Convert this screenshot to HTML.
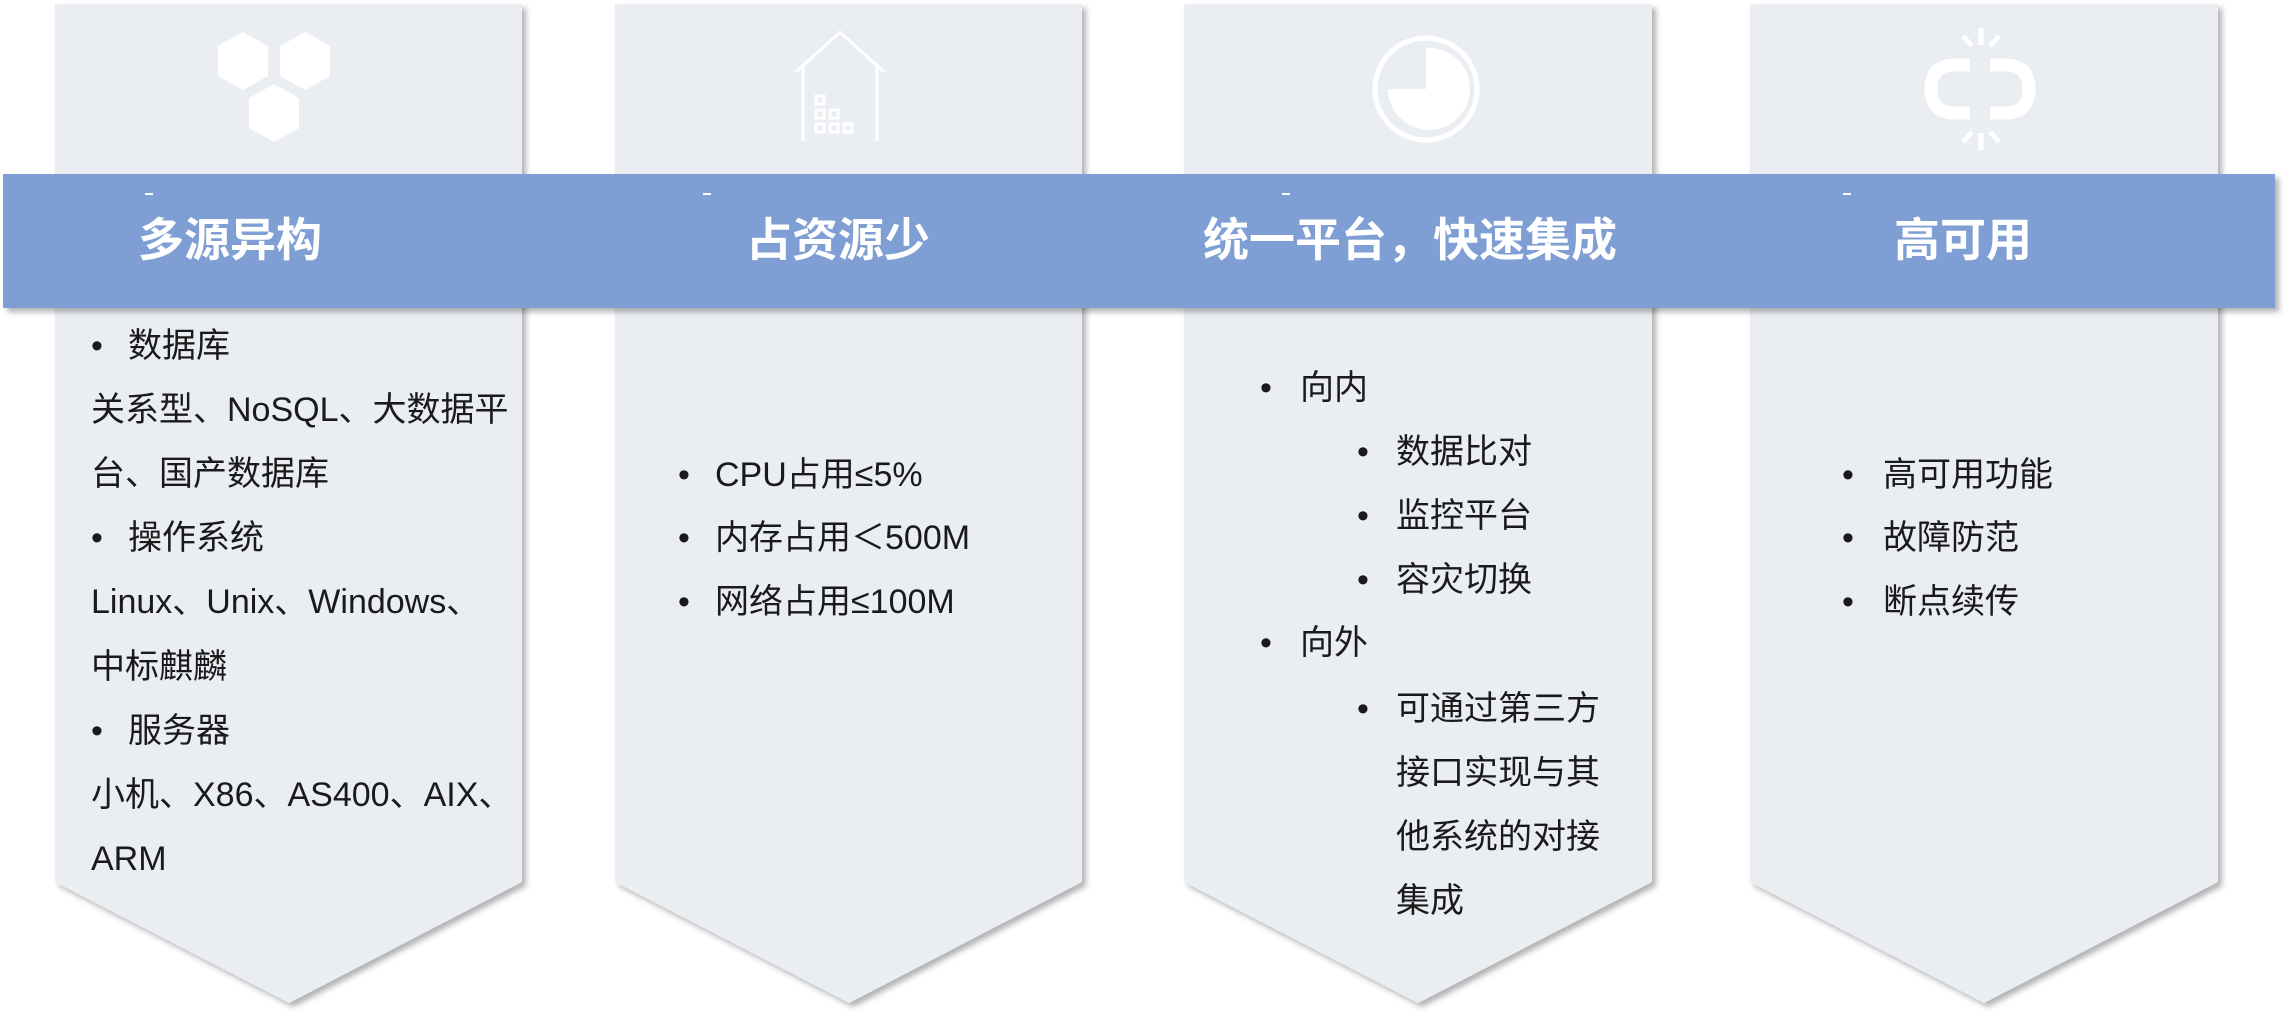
<!DOCTYPE html>
<html><head><meta charset="utf-8"><style>
html,body{margin:0;padding:0;background:#fff;}
body{width:2287px;height:1034px;position:relative;overflow:hidden;font-family:"Liberation Sans","Noto Sans CJK SC",sans-serif;}
.t{position:absolute;font-size:34px;color:#1a1a1a;white-space:nowrap;line-height:40px;}
.b{position:absolute;font-size:34px;color:#1a1a1a;line-height:40px;}
.h{position:absolute;font-size:46px;font-weight:bold;color:#fff;white-space:nowrap;line-height:50px;}
</style></head><body>
<svg width="2287" height="1034" style="position:absolute;left:0;top:0">
<defs><filter id="s" x="-5%" y="-5%" width="115%" height="115%"><feDropShadow dx="4" dy="4" stdDeviation="3" flood-color="#000" flood-opacity="0.3"/></filter></defs>
<g fill="#eaedf2" filter="url(#s)">
<polygon points="55,4 522,4 522,882 289,1003 55,882"/>
<polygon points="615,4 1082,4 1082,882 849,1003 615,882"/>
<polygon points="1184,4 1652,4 1652,882 1418,1003 1184,882"/>
<polygon points="1750,4 2218,4 2218,882 1984,1003 1750,882"/>
</g>
<rect x="3" y="174" width="2272" height="134" fill="#7f9fd4" filter="url(#s)"/>
<g fill="#fff">
<polygon points="243,32 268,46 268,76 243,90 218,76 218,46"/>
<polygon points="305,32 330,46 330,76 305,90 280,76 280,46"/>
<polygon points="274,84 299,98 299,128 274,142 249,128 249,98"/>
</g>
<g fill="none" stroke="#fff" stroke-width="3">
<polyline points="796,72 840,32 884,72"/>
<line x1="803" y1="66" x2="803" y2="141"/><line x1="877" y1="66" x2="877" y2="141"/>
<rect x="816" y="96" width="8" height="8"/><rect x="816" y="110" width="8" height="8"/><rect x="830" y="110" width="8" height="8"/>
<rect x="816" y="124" width="8" height="8"/><rect x="830" y="124" width="8" height="8"/><rect x="844" y="124" width="8" height="8"/>
<circle cx="1426" cy="89" r="51" stroke-width="5"/>
</g>
<path d="M1426,48 A41,41 0 1 1 1388,89 L1426,89 Z" fill="#fff"/>
<g fill="none" stroke="#fff" stroke-width="13">
<path d="M1970,65 L1955,65 Q1931,65 1931,89 Q1931,113 1955,113 L1970,113"/>
<path d="M1990,65 L2005,65 Q2029,65 2029,89 Q2029,113 2005,113 L1990,113"/>
</g>
<g stroke="#fff" stroke-width="5">
<line x1="1981" y1="28" x2="1981" y2="45"/><line x1="1963" y1="36" x2="1972" y2="46"/><line x1="1999" y1="36" x2="1990" y2="46"/>
<line x1="1981" y1="133" x2="1981" y2="150"/><line x1="1963" y1="142" x2="1972" y2="132"/><line x1="1999" y1="142" x2="1990" y2="132"/>
</g>
<g fill="#fff"><rect x="145" y="193" width="8" height="2"/><rect x="703" y="193" width="8" height="2"/><rect x="1282" y="193" width="8" height="2"/><rect x="1843" y="193" width="8" height="2"/></g>
</svg>
<div class="h" style="left:138px;top:215px">多源异构</div>
<div class="h" style="left:746px;top:215px">占资源少</div>
<div class="h" style="left:1203px;top:215px">统一平台，快速集成</div>
<div class="h" style="left:1894px;top:215px">高可用</div>

<div class="b" style="left:91px;top:326px">•</div><div class="t" style="left:128px;top:326px">数据库</div>
<div class="t" style="left:91px;top:390px">关系型、NoSQL、大数据平</div>
<div class="t" style="left:91px;top:454px">台、国产数据库</div>
<div class="b" style="left:91px;top:518px">•</div><div class="t" style="left:128px;top:518px">操作系统</div>
<div class="t" style="left:91px;top:582px">Linux、Unix、Windows、</div>
<div class="t" style="left:91px;top:647px">中标麒麟</div>
<div class="b" style="left:91px;top:711px">•</div><div class="t" style="left:128px;top:711px">服务器</div>
<div class="t" style="left:91px;top:775px">小机、X86、AS400、AIX、</div>
<div class="t" style="left:91px;top:839px">ARM</div>

<div class="b" style="left:678px;top:455px">•</div><div class="t" style="left:715px;top:455px">CPU占用≤5%</div>
<div class="b" style="left:678px;top:518px">•</div><div class="t" style="left:715px;top:518px">内存占用＜500M</div>
<div class="b" style="left:678px;top:582px">•</div><div class="t" style="left:715px;top:582px">网络占用≤100M</div>

<div class="b" style="left:1260px;top:368px">•</div><div class="t" style="left:1300px;top:368px">向内</div>
<div class="b" style="left:1357px;top:432px">•</div><div class="t" style="left:1396px;top:432px">数据比对</div>
<div class="b" style="left:1357px;top:496px">•</div><div class="t" style="left:1396px;top:496px">监控平台</div>
<div class="b" style="left:1357px;top:560px">•</div><div class="t" style="left:1396px;top:560px">容灾切换</div>
<div class="b" style="left:1260px;top:623px">•</div><div class="t" style="left:1300px;top:623px">向外</div>
<div class="b" style="left:1357px;top:689px">•</div><div class="t" style="left:1396px;top:689px">可通过第三方</div>
<div class="t" style="left:1396px;top:753px">接口实现与其</div>
<div class="t" style="left:1396px;top:817px">他系统的对接</div>
<div class="t" style="left:1396px;top:881px">集成</div>

<div class="b" style="left:1842px;top:455px">•</div><div class="t" style="left:1883px;top:455px">高可用功能</div>
<div class="b" style="left:1842px;top:518px">•</div><div class="t" style="left:1883px;top:518px">故障防范</div>
<div class="b" style="left:1842px;top:582px">•</div><div class="t" style="left:1883px;top:582px">断点续传</div>
</body></html>
